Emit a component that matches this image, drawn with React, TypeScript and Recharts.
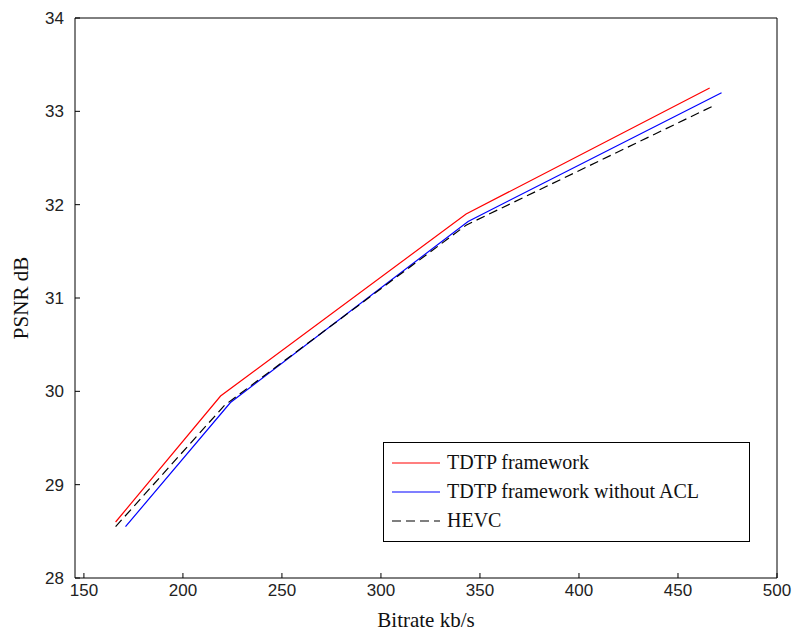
import React from "react"
import { LineChart, Line, XAxis, YAxis, Legend } from "recharts"

// bitrate (kb/s) and PSNR (dB)
const tdtpRate = [166, 219, 343, 466]
const tdtpPsnr = [28.6, 29.95, 31.9, 33.25]

const noAclRate = [171, 224, 344, 472]
const noAclPsnr = [28.55, 29.88, 31.82, 33.2]

const hevcRate = [166, 221, 343, 467]
const hevcPsnr = [28.55, 29.85, 31.78, 33.05]

const xTicks = [150, 200, 250, 300, 350, 400, 450, 500]
const yTicks = [28, 29, 30, 31, 32, 33, 34]

const toPoints = (xs: number[], ys: number[]) => xs.map((x, i) => ({ x, y: ys[i] }))

const series = [
  { name: "TDTP framework", color: "#ff0000", dash: undefined, data: toPoints(tdtpRate, tdtpPsnr) },
  { name: "TDTP framework without ACL", color: "#0000ff", dash: undefined, data: toPoints(noAclRate, noAclPsnr) },
  { name: "HEVC", color: "#000000", dash: "9 5", data: toPoints(hevcRate, hevcPsnr) },
]

const tickFont = { fontFamily: "Liberation Sans, Arial, sans-serif", fontSize: 17, fill: "#222" }
const serif = "Liberation Serif, Times New Roman, serif"

function LegendBox() {
  return (
    <div
      style={{
        border: "1px solid #000",
        background: "#fff",
        width: 367,
        height: 100,
        boxSizing: "border-box",
        padding: "5px 0 0 8px",
        fontFamily: serif,
        fontSize: 20,
        color: "#111",
      }}
    >
      {series.map((s) => (
        <div key={s.name} style={{ display: "flex", alignItems: "center", height: 29 }}>
          <svg width={48} height={10} style={{ marginRight: 7 }}>
            <line x1={0} y1={5} x2={48} y2={5} stroke={s.color} strokeWidth={1.2} strokeDasharray={s.dash} />
          </svg>
          <span>{s.name}</span>
        </div>
      ))}
    </div>
  )
}

export default function App() {
  return (
    <div style={{ position: "absolute", left: 0, top: 0, width: 796, height: 635, background: "#fff" }}>
      <LineChart width={796} height={635} margin={{ top: 17, right: 18, bottom: 12, left: 15 }}>
        <XAxis
          xAxisId="bottom"
          type="number"
          dataKey="x"
          domain={[145.5, 500]}
          ticks={xTicks}
          allowDataOverflow
          height={45}
          tickSize={-5}
          tickMargin={11}
          stroke="#000"
          tick={tickFont}
          label={{
            content: ({ viewBox }: any) => (
              <text x={viewBox.x + viewBox.width / 2} y={627} textAnchor="middle" fontFamily={serif} fontSize={21} fill="#111">
                Bitrate kb/s
              </text>
            ),
          }}
        />
        <XAxis
          xAxisId="top"
          orientation="top"
          type="number"
          dataKey="x"
          domain={[145.5, 500]}
          ticks={xTicks}
          allowDataOverflow
          height={1}
          tickSize={-5}
          tick={false}
          stroke="#000"
        />
        <YAxis
          yAxisId="left"
          type="number"
          domain={[28, 34]}
          ticks={yTicks}
          allowDataOverflow
          width={60}
          tickSize={-5}
          tickMargin={16}
          stroke="#000"
          tick={tickFont}
          label={{
            content: ({ viewBox }: any) => (
              <text
                x={28}
                y={viewBox.y + viewBox.height / 2}
                transform={`rotate(-90, 28, ${viewBox.y + viewBox.height / 2})`}
                textAnchor="middle"
                fontFamily={serif}
                fontSize={21}
                fill="#111"
              >
                PSNR dB
              </text>
            ),
          }}
        />
        <YAxis
          yAxisId="right"
          orientation="right"
          type="number"
          domain={[28, 34]}
          ticks={yTicks}
          allowDataOverflow
          width={1}
          tickSize={-5}
          tick={false}
          stroke="#000"
        />
        {series.map((s) => (
          <Line
            key={s.name}
            xAxisId="bottom"
            yAxisId="left"
            data={s.data}
            dataKey="y"
            name={s.name}
            type="linear"
            stroke={s.color}
            strokeWidth={1.2}
            strokeDasharray={s.dash}
            dot={false}
            activeDot={false}
            isAnimationActive={false}
          />
        ))}
        {/* invisible copy bound to the top/right axes so they get drawn as the frame */}
        <Line
          xAxisId="top"
          yAxisId="right"
          data={series[0].data}
          dataKey="y"
          stroke="none"
          dot={false}
          activeDot={false}
          legendType="none"
          isAnimationActive={false}
        />
        <Legend
          layout="horizontal"
          verticalAlign="middle"
          align="center"
          wrapperStyle={{ left: 383, top: 442, width: 367 }}
          content={() => <LegendBox />}
        />
      </LineChart>
    </div>
  )
}
